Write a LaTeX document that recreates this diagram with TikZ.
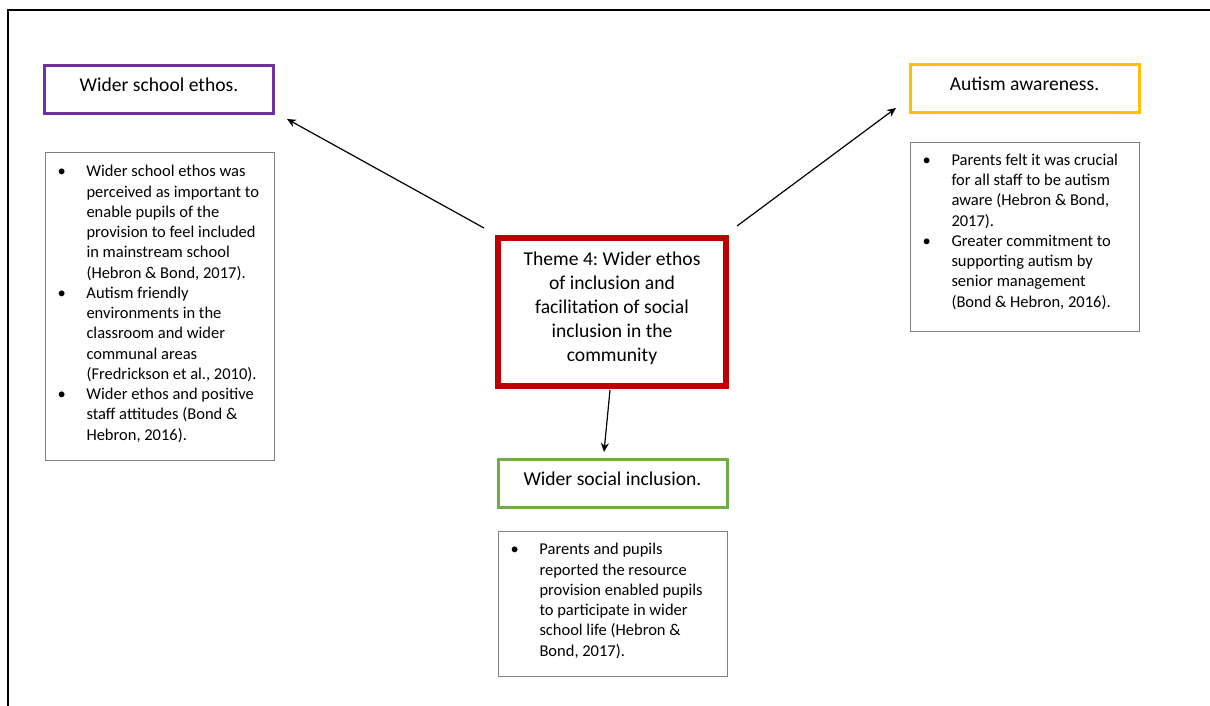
\documentclass[tikz,border=0pt]{standalone}
\usepackage{fontspec}
\setmainfont{Carlito}
\usetikzlibrary{arrows.meta}
\definecolor{thpurple}{HTML}{7030A0}
\definecolor{thyellow}{HTML}{FFC000}
\definecolor{thgreen}{HTML}{70AD47}
\definecolor{thred}{HTML}{C00000}
\definecolor{listgray}{HTML}{808080}

% one bullet point: bullet, then the given lines hanging after it
\newcommand{\bulletpoint}[1]{\par\noindent\hangindent=29pt\hangafter=1
  \makebox[29pt][l]{\textbullet}#1\par}
% body of a list box of the given height
\newcommand{\listbody}[3]{\parbox[c][#1][t]{229pt}{\fontsize{16.5}{20.25}\selectfont
  \parskip=0pt\leftskip=12pt\rightskip=0pt plus 1fil\vspace*{#2}#3}}
% centred block of text, sitting a little above the middle of its box
\newcommand{\themetext}[1]{\raisebox{-1pt}[0pt][0pt]{\parbox{215pt}{\centering #1}}}

\begin{document}
\frenchspacing
\begin{tikzpicture}[x=1pt,y=-1pt,
  titlebox/.style={draw=#1, line width=3pt, minimum width=229pt, minimum height=48pt,
    inner sep=0pt, text height=14pt, text depth=10pt, font=\fontsize{19.6}{24}\selectfont},
  listbox/.style={draw=listgray, line width=1pt, anchor=north west, inner sep=0pt},
  themebox/.style={draw=thred, line width=5.5pt, minimum width=228pt, minimum height=148pt,
    inner sep=0pt, font=\fontsize{19.6}{24}\selectfont},
  link/.style={line width=1.2pt, -{Stealth[length=9pt,width=8pt]}}]

\useasboundingbox (0,0) rectangle (1210,706);

% frame along the top and left edges
\draw[line width=2pt] (7.5,706) -- (7.5,10) -- (1210,10);

% heading boxes
\node[titlebox=thpurple] (ethos) at (159,89.5) {Wider school ethos.};
\node[titlebox=thyellow] (aware) at (1024.5,89) {Autism awareness.};
\node[titlebox=thgreen] (social) at (612.5,483.5) {Wider social inclusion.};

% central theme
\node[themebox] (theme) at (612,312) {\themetext{Theme 4: Wider ethos\\of inclusion and\\facilitation of social\\inclusion in the\\community}};

% supporting evidence lists
\node[listbox] (ethoslist) at (45,152) {\listbody{308pt}{13pt}{%
  \bulletpoint{Wider school ethos was\\perceived as important to\\enable pupils of the\\provision to feel included\\in mainstream school\\(Hebron \& Bond, 2017).}
  \bulletpoint{Autism friendly\\environments in the\\classroom and wider\\communal areas\\(Fredrickson et al., 2010).}
  \bulletpoint{Wider ethos and positive\\staff attitudes (Bond \&\\Hebron, 2016).}}};

\node[listbox] (awarelist) at (910,142) {\listbody{189pt}{11.5pt}{%
  \bulletpoint{Parents felt it was crucial\\for all staff to be autism\\aware (Hebron \& Bond,\\2017).}
  \bulletpoint{Greater commitment to\\supporting autism by\\senior management\\(Bond \& Hebron, 2016).}}};

\node[listbox] (sociallist) at (498,531) {\listbody{145pt}{12pt}{%
  \bulletpoint{Parents and pupils\\reported the resource\\provision enabled pupils\\to participate in wider\\school life (Hebron \&\\Bond, 2017).}}};

% connectors from the theme to its sub-themes
\coordinate (tl) at (484,228);
\coordinate (tr) at (737,226);
\coordinate (tb) at (610,390);
\coordinate (el) at (287,119);
\coordinate (ar) at (896,108);
\coordinate (sb) at (604,452);
\draw[link] (tl) -- (el);
\draw[link] (tr) -- (ar);
\draw[link] (tb) -- (sb);
\end{tikzpicture}
\end{document}
